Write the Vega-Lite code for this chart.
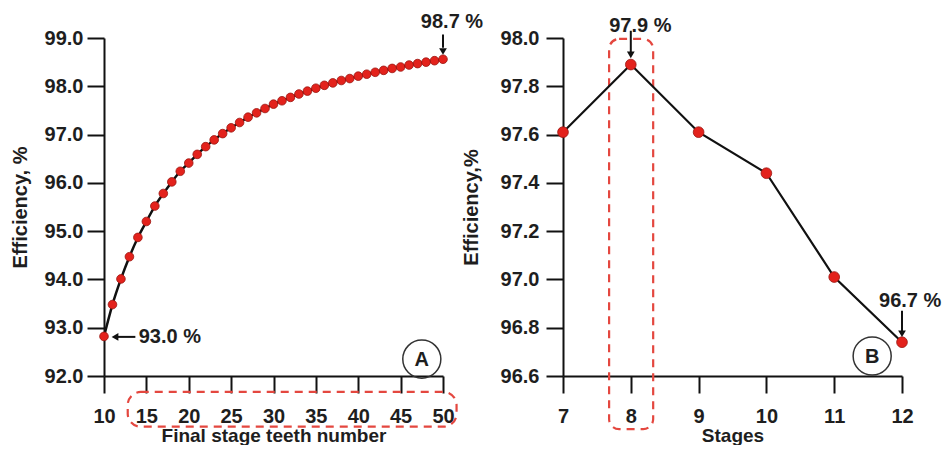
{
  "$schema": "https://vega.github.io/schema/vega-lite/v6.json",
  "background": "white",
  "padding": {"left": 10, "top": 12, "right": 5, "bottom": 0},
  "spacing": 120,
  "bounds": "flush",
  "config": {
    "view": {"stroke": null},
    "font": "Liberation Sans",
    "axis": {
      "domainColor": "#111", "domainWidth": 2, "tickColor": "#111", "tickWidth": 2, "tickSize": 17,
      "grid": false, "labelFont": "Liberation Sans", "labelFontWeight": "bold", "labelFontSize": 20,
      "labelColor": "#1e1e1e", "titleFont": "Liberation Sans", "titleFontWeight": "bold", "titleFontSize": 20,
      "titleColor": "#1e1e1e", "labelFlush": false, "labelOverlap": false, "labelBound": false
    },
    "text": {"font": "Liberation Sans", "fontWeight": "bold", "fontSize": 20, "color": "#1e1e1e"}
  },
  "datasets": {
    "teeth": [
      {"x": 10, "y": 92.82}, {"x": 11, "y": 93.48}, {"x": 12, "y": 94.01}, {"x": 13, "y": 94.47},
      {"x": 14, "y": 94.87}, {"x": 15, "y": 95.20}, {"x": 16, "y": 95.52}, {"x": 17, "y": 95.78},
      {"x": 18, "y": 96.02}, {"x": 19, "y": 96.24}, {"x": 20, "y": 96.41}, {"x": 21, "y": 96.59},
      {"x": 22, "y": 96.75}, {"x": 23, "y": 96.89}, {"x": 24, "y": 97.02}, {"x": 25, "y": 97.14},
      {"x": 26, "y": 97.25}, {"x": 27, "y": 97.36}, {"x": 28, "y": 97.45}, {"x": 29, "y": 97.54},
      {"x": 30, "y": 97.63}, {"x": 31, "y": 97.70}, {"x": 32, "y": 97.77}, {"x": 33, "y": 97.84},
      {"x": 34, "y": 97.90}, {"x": 35, "y": 97.96}, {"x": 36, "y": 98.02}, {"x": 37, "y": 98.07},
      {"x": 38, "y": 98.12}, {"x": 39, "y": 98.16}, {"x": 40, "y": 98.21}, {"x": 41, "y": 98.25},
      {"x": 42, "y": 98.29}, {"x": 43, "y": 98.33}, {"x": 44, "y": 98.37}, {"x": 45, "y": 98.40},
      {"x": 46, "y": 98.44}, {"x": 47, "y": 98.47}, {"x": 48, "y": 98.50}, {"x": 49, "y": 98.53},
      {"x": 50, "y": 98.56}
    ],
    "stages": [
      {"x": 7, "y": 97.61}, {"x": 8, "y": 97.89}, {"x": 9, "y": 97.61},
      {"x": 10, "y": 97.44}, {"x": 11, "y": 97.01}, {"x": 12, "y": 96.74}
    ]
  },
  "hconcat": [
    {
      "width": 339,
      "height": 338,
      "encoding": {
        "x": {"field": "x", "type": "quantitative", "scale": {"domain": [10, 50], "nice": false, "zero": false},
              "axis": {"values": [10, 15, 20, 25, 30, 35, 40, 45, 50], "title": "Final stage teeth number", "labelPadding": 13, "titlePadding": 0, "titleFontSize": 19}},
        "y": {"field": "y", "type": "quantitative", "scale": {"domain": [92, 99], "nice": false, "zero": false},
              "axis": {"values": [92, 93, 94, 95, 96, 97, 98, 99], "format": ".1f", "title": "Efficiency, %", "labelPadding": 4, "titlePadding": 14}}
      },
      "layer": [
        {"data": {"name": "teeth"}, "mark": {"type": "line", "color": "#111", "strokeWidth": 2.5, "interpolate": "monotone"}},
        {"data": {"name": "teeth"}, "mark": {"type": "point", "filled": true, "shape": "circle", "size": 75, "fill": "#e3221c", "stroke": "#9a1510", "strokeWidth": 0.8, "opacity": 1}},
        {"data": {"values": [{"x": 12.8, "x2": 51.6, "y": 91.67, "y2": 90.95}]},
         "mark": {"type": "rect", "fill": null, "fillOpacity": 0, "stroke": "#e4473f", "strokeWidth": 2.2, "strokeDash": [8, 6], "cornerRadius": 13, "clip": false},
         "encoding": {"x2": {"field": "x2"}, "y2": {"field": "y2"}}},
        {"data": {"values": [{"x": 13.7, "y": 92.81, "x2": 11.6, "y2": 92.81}, {"x": 50, "y": 99.07, "x2": 50, "y2": 98.8}]},
         "mark": {"type": "rule", "color": "#111", "strokeWidth": 2, "clip": false},
         "encoding": {"x2": {"field": "x2"}, "y2": {"field": "y2"}}},
        {"data": {"values": [{"x": 11.3, "y": 92.81}]},
         "mark": {"type": "point", "shape": "triangle-left", "filled": true, "color": "#111", "size": 60, "opacity": 1}},
        {"data": {"values": [{"x": 50, "y": 98.72}]},
         "mark": {"type": "point", "shape": "triangle-down", "filled": true, "color": "#111", "size": 60, "opacity": 1, "clip": false}},
        {"data": {"values": [{"x": 14.1, "y": 92.81, "label": "93.0 %"}]},
         "mark": {"type": "text", "align": "left", "baseline": "middle"},
         "encoding": {"text": {"field": "label"}}},
        {"data": {"values": [{"x": 51.06, "y": 99.33, "label": "98.7 %"}]},
         "mark": {"type": "text", "align": "center", "baseline": "middle", "clip": false},
         "encoding": {"text": {"field": "label"}}},
        {"data": {"values": [{"x": 47.5, "y": 92.35}]},
         "mark": {"type": "point", "shape": "circle", "filled": false, "stroke": "#333", "strokeWidth": 1.5, "size": 1450, "opacity": 1}},
        {"data": {"values": [{"x": 47.5, "y": 92.35, "label": "A"}]},
         "mark": {"type": "text", "align": "center", "baseline": "middle", "dy": 1},
         "encoding": {"text": {"field": "label"}}}
      ]
    },
    {
      "width": 339,
      "height": 338,
      "encoding": {
        "x": {"field": "x", "type": "quantitative", "scale": {"domain": [7, 12], "nice": false, "zero": false},
              "axis": {"values": [7, 8, 9, 10, 11, 12], "title": "Stages", "labelPadding": 13, "titlePadding": 0, "titleFontSize": 19}},
        "y": {"field": "y", "type": "quantitative", "scale": {"domain": [96.6, 98.0], "nice": false, "zero": false},
              "axis": {"values": [96.6, 96.8, 97.0, 97.2, 97.4, 97.6, 97.8, 98.0], "format": ".1f", "title": "Efficiency,%", "labelPadding": 7, "titlePadding": 19}}
      },
      "layer": [
        {"data": {"values": [{"x": 7.68, "x2": 8.33, "y": 97.996, "y2": 96.38}]},
         "mark": {"type": "rect", "fill": null, "fillOpacity": 0, "stroke": "#e4473f", "strokeWidth": 2.2, "strokeDash": [8, 6], "cornerRadius": 10, "clip": false},
         "encoding": {"x2": {"field": "x2"}, "y2": {"field": "y2"}}},
        {"data": {"name": "stages"}, "mark": {"type": "line", "color": "#111", "strokeWidth": 2.2}},
        {"data": {"name": "stages"}, "mark": {"type": "point", "filled": true, "shape": "circle", "size": 115, "fill": "#e3221c", "stroke": "#9a1510", "strokeWidth": 0.8, "opacity": 1}},
        {"data": {"values": [{"x": 8, "y": 98.03, "x2": 8, "y2": 97.94}, {"x": 12, "y": 96.87, "x2": 12, "y2": 96.785}]},
         "mark": {"type": "rule", "color": "#111", "strokeWidth": 2, "clip": false},
         "encoding": {"x2": {"field": "x2"}, "y2": {"field": "y2"}}},
        {"data": {"values": [{"x": 8, "y": 97.93}, {"x": 12, "y": 96.775}]},
         "mark": {"type": "point", "shape": "triangle-down", "filled": true, "color": "#111", "size": 60, "opacity": 1, "clip": false}},
        {"data": {"values": [{"x": 8.14, "y": 98.05, "label": "97.9 %"}, {"x": 12.12, "y": 96.91, "label": "96.7 %"}]},
         "mark": {"type": "text", "align": "center", "baseline": "middle", "clip": false},
         "encoding": {"text": {"field": "label"}}},
        {"data": {"values": [{"x": 11.56, "y": 96.683}]},
         "mark": {"type": "point", "shape": "circle", "filled": false, "stroke": "#333", "strokeWidth": 1.5, "size": 1450, "opacity": 1}},
        {"data": {"values": [{"x": 11.56, "y": 96.683, "label": "B"}]},
         "mark": {"type": "text", "align": "center", "baseline": "middle", "dy": 1},
         "encoding": {"text": {"field": "label"}}}
      ]
    }
  ]
}
